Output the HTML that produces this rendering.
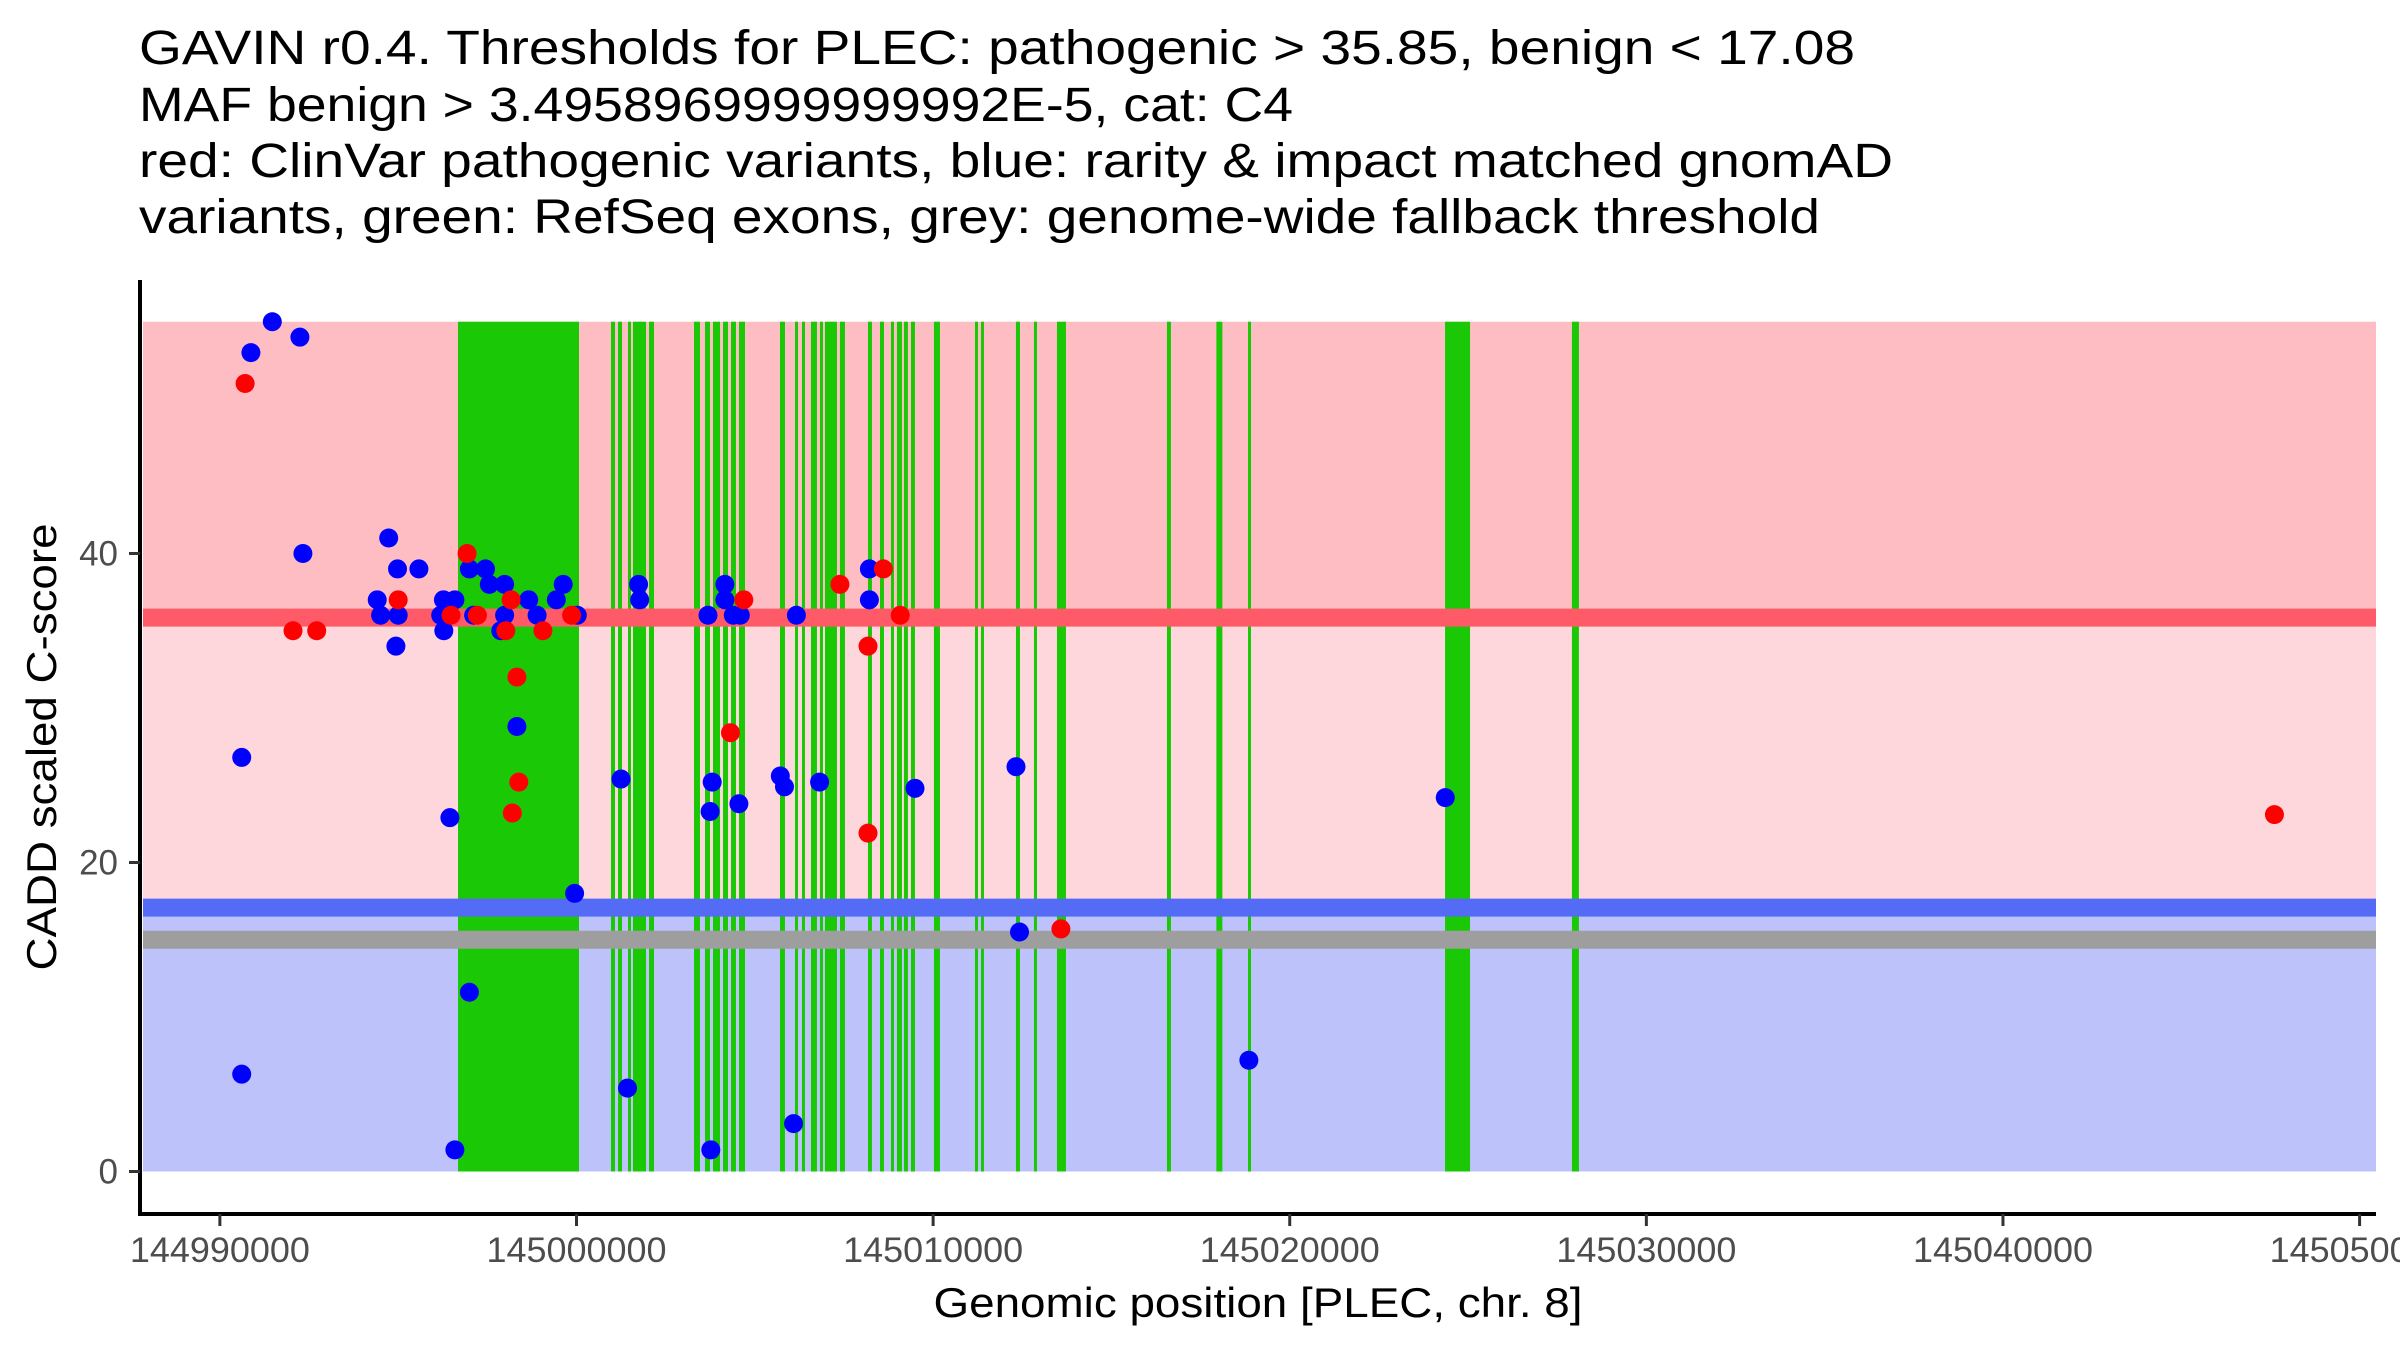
<!DOCTYPE html>
<html><head><meta charset="utf-8"><title>GAVIN PLEC chart</title>
<style>html,body{margin:0;padding:0;background:#fff;}svg{display:block;font-family:"Liberation Sans",Arial,sans-serif;}</style>
</head><body>
<svg id="chart" width="2400" height="1350" viewBox="0 0 2400 1350" xmlns="http://www.w3.org/2000/svg">
<g font-size="48" fill="#000">
<text x="139" y="64" textLength="1716" lengthAdjust="spacingAndGlyphs">GAVIN r0.4. Thresholds for PLEC: pathogenic &gt; 35.85, benign &lt; 17.08</text>
<text x="139" y="121" textLength="1154" lengthAdjust="spacingAndGlyphs">MAF benign &gt; 3.4958969999999992E-5, cat: C4</text>
<text x="139" y="177" textLength="1754" lengthAdjust="spacingAndGlyphs">red: ClinVar pathogenic variants, blue: rarity &amp; impact matched gnomAD</text>
<text x="139" y="233" textLength="1681" lengthAdjust="spacingAndGlyphs">variants, green: RefSeq exons, grey: genome-wide fallback threshold</text>
</g>
<g id="bands"></g>
<g id="exons"></g>
<g id="lines"></g>
<g id="points"></g>
<g id="axes"></g>
<text x="1258" y="1317" font-size="42" text-anchor="middle" textLength="649" lengthAdjust="spacingAndGlyphs">Genomic position [PLEC, chr. 8]</text>
<text transform="translate(56,747) rotate(-90)" font-size="42" text-anchor="middle" textLength="447" lengthAdjust="spacingAndGlyphs">CADD scaled C-score</text>
</svg>
<script>
const xTicks = [144990000, 145000000, 145010000, 145020000, 145030000, 145040000, 145050000];
const yTicks = [0, 20, 40];
const pathogenicThreshold = 35.85;
const benignThreshold = 17.08;
const fallbackThreshold = 15;
const bandTop = 55;
const exonStarts = [144996677,145000967,145001164,145001444,145001584,145002033,145003295,145003603,145003827,145004108,145004332,145004556,145005706,145006127,145006323,145006575,145006827,145006968,145007388,145008173,145008510,145008818,145008986,145009182,145009379,145010023,145011174,145011342,145012323,145012828,145013473,145016557,145017943,145018830,145024355,145027913];
const exonEnds   = [145000070,145001080,145001276,145001528,145001949,145002173,145003463,145003743,145004024,145004248,145004472,145004725,145005846,145006211,145006407,145006743,145006883,145007304,145007528,145008285,145008622,145008902,145009126,145009294,145009491,145010192,145011258,145011426,145012435,145012884,145013725,145016669,145018111,145018914,145025056,145028109];
const blueX = [144991470,144990870,144992244,144992328,144994734,144994981,144995581,144994412,144994507,144995000,144994936,144996268,144996590,144996192,144996279,144990612,144990612,144996450,144996590,144996997,144997448,144997555,144997984,144997115,144997984,144997877,144998660,144998895,144999434,144999627,144998329,144996997,145000022,144999947,145001248,145001430,145001741,145001772,145003687,145004161,145004161,145004397,145004593,145003805,145003746,145004554,145003766,145006166,145005715,145005832,145006816,145006087,145008213,145008213,145009492,145012324,145012422,145018854,145024361];
const blueY = [55,53,54,40,41,39,39,37,36,36,34,37,37,36,35,26.8,6.3,22.9,1.4,39,39,38,38,36,36,35,37,36,37,38,28.8,11.6,36,18,25.4,5.4,38,37,36,38,37,36,36,25.2,23.3,23.8,1.4,36,25.6,24.9,25.2,3.1,39,37,24.8,26.2,15.5,7.2,24.2];
const redX = [144990707,144992051,144992715,144995000,144996481,144996932,144997221,144998166,144998018,144999058,144998329,144998382,144998200,144999863,145004691,145004318,145007386,145008606,145009077,145008174,145008174,145013583,145047612];
const redY = [51,35,35,37,36,40,36,37,35,35,32,25.2,23.2,36,37,28.4,38,39,36,34,21.9,15.7,23.1];

const NS = 'http://www.w3.org/2000/svg';
const L = 141, R = 2376, T = 280, B = 1214;
const xMin = 144987788, xMax = 145050460;
const yMin = -2.75, yMax = 57.7;
function sx(v){ return L + (v - xMin) / (xMax - xMin) * (R - L); }
function sy(v){ return B - (v - yMin) / (yMax - yMin) * (B - T); }
function mk(tag, attrs, parent){
  const e = document.createElementNS(NS, tag);
  for (const k in attrs) e.setAttribute(k, attrs[k]);
  parent.appendChild(e);
  return e;
}
const bands = document.getElementById('bands');
let e;
e = mk('rect', {x:143, y:sy(bandTop), width:R-143, height:sy(pathogenicThreshold)-sy(bandTop), fill:'#FDBDC3'}, bands);


e = mk('rect', {x:143, y:sy(pathogenicThreshold), width:R-143, height:sy(benignThreshold)-sy(pathogenicThreshold), fill:'#FED7DC'}, bands);


e = mk('rect', {x:143, y:sy(benignThreshold), width:R-143, height:sy(0)-sy(benignThreshold), fill:'#BDC3FA'}, bands);



const exG = document.getElementById('exons');
for (let i = 0; i < exonStarts.length; i++){
  const x0 = sx(exonStarts[i]), x1 = sx(exonEnds[i]);
  e = mk('rect', {x:x0, y:sy(bandTop), width:Math.max(3, x1-x0), height:sy(0)-sy(bandTop), fill:'#1BC806'}, exG);
  
  
}
const lg = document.getElementById('lines');
e = mk('rect', {x:143, y:sy(pathogenicThreshold)-9, width:R-143, height:18, fill:'#FF5A68'}, lg);


e = mk('rect', {x:143, y:sy(benignThreshold)-9, width:R-143, height:18, fill:'#546CF5'}, lg);


e = mk('rect', {x:143, y:sy(fallbackThreshold)-9, width:R-143, height:18, fill:'#9E9E9E'}, lg);



const pg = document.getElementById('points');
for (let i = 0; i < blueX.length; i++){
  e = mk('circle', {cx:sx(blueX[i]), cy:sy(blueY[i]), r:9.5, fill:'#0000FF'}, pg);
  
  
}
for (let i = 0; i < redX.length; i++){
  e = mk('circle', {cx:sx(redX[i]), cy:sy(redY[i]), r:9.5, fill:'#FF0000'}, pg);
  
  
}

const ax = document.getElementById('axes');
e = mk('line', {x1:140, y1:T, x2:140, y2:B+2, stroke:'#000', 'stroke-width':4}, ax);


e = mk('line', {x1:138, y1:B, x2:R, y2:B, stroke:'#000', 'stroke-width':4}, ax);


yTicks.forEach(v => {
  const y = sy(v);
  e = mk('line', {x1:129, y1:y, x2:140, y2:y, stroke:'#333', 'stroke-width':3}, ax);
  
  
  e = mk('text', {x:118, y:y+12, 'font-size':35, fill:'#4D4D4D', 'text-anchor':'end'}, ax);
  e.textContent = String(v);
  
  
});
xTicks.forEach(v => {
  const x = sx(v);
  e = mk('line', {x1:x, y1:B, x2:x, y2:B+12, stroke:'#333', 'stroke-width':3}, ax);
  
  
  e = mk('text', {x:x, y:1262, 'font-size':35, fill:'#4D4D4D', 'text-anchor':'middle', textLength:180, lengthAdjust:'spacingAndGlyphs'}, ax);
  e.textContent = String(v);
  
  
});
</script>
</body></html>
